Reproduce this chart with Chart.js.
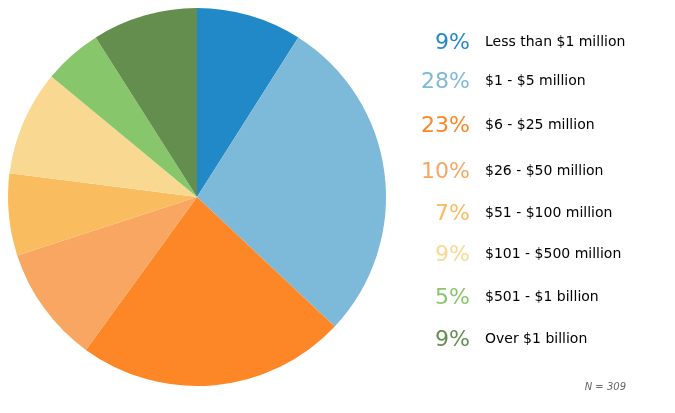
<!DOCTYPE html>
<html>
<head>
<meta charset="utf-8">
<script src="https://cdn.jsdelivr.net/npm/chart.js@4"></script>
<style>
  html, body { margin: 0; padding: 0; background: #fff; }
  #wrap { width: 675px; height: 413px; position: relative; }
</style>
</head>
<body>
<div id="wrap"><canvas id="revenueChart"></canvas></div>
<script>
const categories = ["Less than $1 million", "$1 - $5 million", "$6 - $25 million", "$26 - $50 million",
    "$51 - $100 million", "$101 - $500 million", "$501 - $1 billion", "Over $1 billion"];
const shares = [9, 28, 23, 10, 7, 9, 5, 9];
const sliceColors = ["#2189c8", "#7db9d9", "#fd8726", "#f8a661", "#f9bc5f", "#f9d991", "#88c66b", "#638e4e"];
const sampleNote = "N = 309";

// legend row centres on the right side
const rowY = [43, 82, 126, 172, 214, 255, 298, 340];

const sideLegend = {
    id: 'sideLegend',
    afterDraw(chart) {
        const c = chart.ctx;
        c.save();
        c.textBaseline = 'middle';
        categories.forEach((name, i) => {
            c.fillStyle = sliceColors[i];
            c.font = '22px "DejaVu Sans"';
            c.textAlign = 'right';
            c.fillText(shares[i] + '%', 470, rowY[i]);
            c.fillStyle = '#000';
            c.font = '14px "DejaVu Sans"';
            c.textAlign = 'left';
            c.fillText(name, 485, rowY[i] - 1);
        });
        c.fillStyle = '#666';
        c.font = 'italic 10px "DejaVu Sans"';
        c.textAlign = 'right';
        c.fillText(sampleNote, 626, 387);
        c.restore();
    }
};

const ctx = document.getElementById('revenueChart').getContext('2d');

new Chart(ctx, {
    type: 'pie',
    data: {
        labels: categories,
        datasets: [{
            data: shares,
            backgroundColor: sliceColors,
            borderWidth: 0
        }]
    },
    options: {
        responsive: true,
        maintainAspectRatio: false,
        animation: false,
        layout: {
            padding: { left: 8, top: 8, right: 289, bottom: 27 }
        },
        plugins: {
            legend: { display: false },
            tooltip: { enabled: false }
        }
    },
    plugins: [sideLegend]
});
</script>
</body>
</html>
